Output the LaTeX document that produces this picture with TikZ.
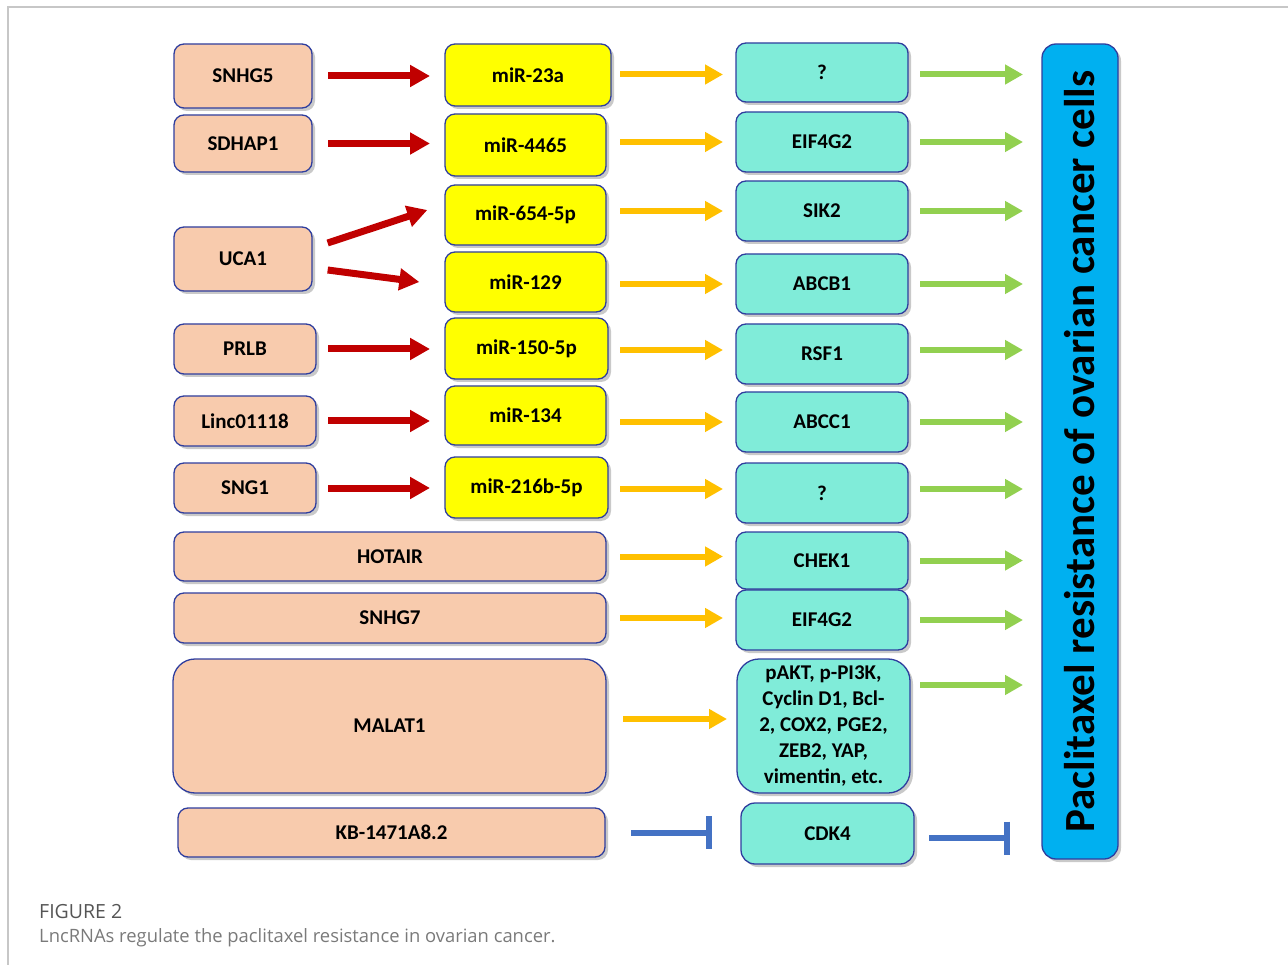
\documentclass[tikz,border=0pt]{standalone}
\usepackage{fontspec}
\setmainfont{Carlito}
\newfontfamily\capfont{Open Sans}
\usetikzlibrary{arrows.meta,shadows,calc}
\definecolor{peach}{HTML}{F8CBAD}
\definecolor{ylw}{HTML}{FFFF00}
\definecolor{cyn}{HTML}{80ECD9}
\definecolor{sky}{HTML}{00B0F0}
\definecolor{edgeblue}{HTML}{2F3E9E}
\definecolor{redA}{HTML}{C00000}
\definecolor{orgA}{HTML}{FFC000}
\definecolor{grnA}{HTML}{92D050}
\definecolor{bluA}{HTML}{4472C4}
\definecolor{capdark}{HTML}{555555}
\definecolor{caplight}{HTML}{7A7A7A}
\begin{document}
\begin{tikzpicture}[x=1pt,y=-1pt,
  box/.style={draw=edgeblue, line width=1.3pt, rounded corners=10pt, inner sep=2pt,
    font=\bfseries\fontsize{21}{26}\selectfont, align=center,
    drop shadow={shadow xshift=3pt,shadow yshift=-3pt,opacity=0.3,fill=black!70}},
  lnc/.style={box, fill=peach},
  mir/.style={box, fill=ylw},
  tgt/.style={box, fill=cyn},
  redarr/.style={draw=redA, line width=7pt, -{Triangle[length=20pt,width=21pt]}},
  orgarr/.style={draw=orgA, line width=6pt, -{Triangle[length=18pt,width=19pt]}},
  grnarr/.style={draw=grnA, line width=6pt, -{Triangle[length=18pt,width=19pt]}},
  inh/.style={draw=bluA, line width=6pt, -{Bar[width=33pt]}}
]
\useasboundingbox (0,0) rectangle (1288,965);
\draw[black!22, line width=2pt] (7.5,965) -- (7.5,7.5) -- (1288,7.5);

% lncRNAs
\node[lnc, minimum width=138pt, minimum height=64pt] (snhg5) at (243,76) {SNHG5};
\node[lnc, minimum width=138pt, minimum height=57pt] (sdhap1) at (243,143.5) {SDHAP1};
\node[lnc, minimum width=138pt, minimum height=64pt] (uca1) at (243,259) {UCA1};
\node[lnc, minimum width=142pt, minimum height=50pt] (prlb) at (245,349) {PRLB};
\node[lnc, minimum width=142pt, minimum height=50pt] (linc) at (245,421) {Linc01118};
\node[lnc, minimum width=142pt, minimum height=50pt] (sng1) at (245,488) {SNG1};
\node[lnc, minimum width=432pt, minimum height=49pt] (hotair) at (390,556.5) {HOTAIR};
\node[lnc, minimum width=432pt, minimum height=50pt] (snhg7) at (390,618) {SNHG7};
\node[lnc, rounded corners=22pt, minimum width=433pt, minimum height=134pt] (malat) at (389.5,726) {MALAT1};
\node[lnc, minimum width=427pt, minimum height=49pt] (kb) at (391.5,832.5) {KB-1471A8.2};

% miRNAs
\node[mir, minimum width=166pt, minimum height=62pt] (m23a) at (528,75) {miR-23a};
\node[mir, minimum width=161pt, minimum height=62pt] (m4465) at (525.5,145) {miR-4465};
\node[mir, minimum width=161pt, minimum height=60pt] (m654) at (525.5,215) {miR-654-5p};
\node[mir, minimum width=161pt, minimum height=60pt] (m129) at (525.5,282) {miR-129};
\node[mir, minimum width=163pt, minimum height=61pt] (m150) at (526.5,348.5) {miR-150-5p};
\node[mir, minimum width=161pt, minimum height=59pt] (m134) at (525.5,415.5) {miR-134};
\node[mir, minimum width=163pt, minimum height=61pt] (m216) at (526.5,487.5) {miR-216b-5p};

% targets
\node[tgt, minimum width=172pt, minimum height=59pt] (q1) at (822,72.5) {?};
\node[tgt, minimum width=172pt, minimum height=60pt] (eif1) at (822,142) {EIF4G2};
\node[tgt, minimum width=172pt, minimum height=60pt] (sik2) at (822,211) {SIK2};
\node[tgt, minimum width=172pt, minimum height=60pt] (abcb1) at (822,284) {ABCB1};
\node[tgt, minimum width=172pt, minimum height=60pt] (rsf1) at (822,354) {RSF1};
\node[tgt, minimum width=172pt, minimum height=60pt] (abcc1) at (822,422) {ABCC1};
\node[tgt, minimum width=172pt, minimum height=60pt] (q2) at (822,493) {?};
\node[tgt, minimum width=172pt, minimum height=57pt] (chek1) at (822,560.5) {CHEK1};
\node[tgt, minimum width=172pt, minimum height=60pt] (eif2) at (822,620) {EIF4G2};
\node[tgt, rounded corners=22pt, minimum width=173pt, minimum height=134pt] (pakt) at (823.5,726)
  {pAKT, p-PI3K,\\Cyclin D1, Bcl-\\2, COX2, PGE2,\\ZEB2, YAP,\\vimentin, etc.};
\node[tgt, rounded corners=14pt, minimum width=173pt, minimum height=61pt] (cdk4) at (827.5,833.5) {CDK4};

% outcome
\node[draw=edgeblue, line width=1.3pt, fill=sky, rounded corners=14pt, minimum width=76pt, minimum height=815pt,
  drop shadow={shadow xshift=3pt,shadow yshift=-3pt,opacity=0.3,fill=black!70}] (res) at (1080,451.5) {};
\node[rotate=90, font=\bfseries\fontsize{43}{43}\selectfont, inner sep=0pt] (restext) at (res.center) {Paclitaxel resistance of ovarian cancer cells};

% column coordinates
\coordinate (r1) at (328,0); \coordinate (r2) at (430,0);
\coordinate (o1) at (620,0); \coordinate (o2) at (723,0);
\coordinate (g1) at (920,0); \coordinate (g2) at (1023,0);
\coordinate (b1) at (631,0); \coordinate (b2) at (712,0);
\coordinate (b3) at (929,0); \coordinate (b4) at (1010,0);

% red arrows
\draw[redarr] (r1 |- snhg5) -- (r2 |- snhg5);
\draw[redarr] (r1 |- sdhap1) -- (r2 |- sdhap1);
\draw[redarr] ($(uca1.east)+(15,-16)$) -- ($(m654.west)+(-17,-5)$);
\draw[redarr] ($(uca1.east)+(15,11)$) -- ($(m129.west)+(-25,0)$);
\draw[redarr] (r1 |- prlb) -- (r2 |- prlb);
\draw[redarr] (r1 |- linc) -- (r2 |- linc);
\draw[redarr] (r1 |- sng1) -- (r2 |- sng1);

% orange arrows
\draw[orgarr] ($(o1 |- q1)+(0,2)$) -- ($(o2 |- q1)+(0,2)$);
\draw[orgarr] (o1 |- eif1) -- (o2 |- eif1);
\draw[orgarr] (o1 |- sik2) -- (o2 |- sik2);
\draw[orgarr] (o1 |- abcb1) -- (o2 |- abcb1);
\draw[orgarr] ($(o1 |- rsf1)+(0,-4)$) -- ($(o2 |- rsf1)+(0,-4)$);
\draw[orgarr] (o1 |- abcc1) -- (o2 |- abcc1);
\draw[orgarr] ($(o1 |- q2)+(0,-4)$) -- ($(o2 |- q2)+(0,-4)$);
\draw[orgarr] (o1 |- hotair) -- (o2 |- hotair);
\draw[orgarr] (o1 |- snhg7) -- (o2 |- snhg7);
\draw[orgarr] ($(o1 |- malat)+(3,-7)$) -- ($(o2 |- malat)+(4,-7)$);

% green arrows
\draw[grnarr] ($(g1 |- q1)+(0,2)$) -- ($(g2 |- q1)+(0,2)$);
\draw[grnarr] (g1 |- eif1) -- (g2 |- eif1);
\draw[grnarr] (g1 |- sik2) -- (g2 |- sik2);
\draw[grnarr] (g1 |- abcb1) -- (g2 |- abcb1);
\draw[grnarr] ($(g1 |- rsf1)+(0,-4)$) -- ($(g2 |- rsf1)+(0,-4)$);
\draw[grnarr] (g1 |- abcc1) -- (g2 |- abcc1);
\draw[grnarr] ($(g1 |- q2)+(0,-4)$) -- ($(g2 |- q2)+(0,-4)$);
\draw[grnarr] (g1 |- chek1) -- (g2 |- chek1);
\draw[grnarr] (g1 |- eif2) -- (g2 |- eif2);
\draw[grnarr] ($(g1 |- pakt)+(0,-41)$) -- ($(g2 |- pakt)+(0,-41)$);

% inhibition
\draw[inh] (b1 |- kb) -- (b2 |- kb);
\draw[inh] ($(b3 |- cdk4)+(0,4.5)$) -- ($(b4 |- cdk4)+(0,4.5)$);

% caption
\node[anchor=base west, inner sep=0pt, text=capdark, font=\capfont\fontsize{19.5}{19.5}\selectfont] (figlabel) at (39,918) {FIGURE 2};
\node[anchor=base west, inner sep=0pt, text=caplight, font=\capfont\fontsize{18.4}{18.4}\selectfont] (figcap) at (39,942) {LncRNAs regulate the paclitaxel resistance in ovarian cancer.};
\end{tikzpicture}
\end{document}
